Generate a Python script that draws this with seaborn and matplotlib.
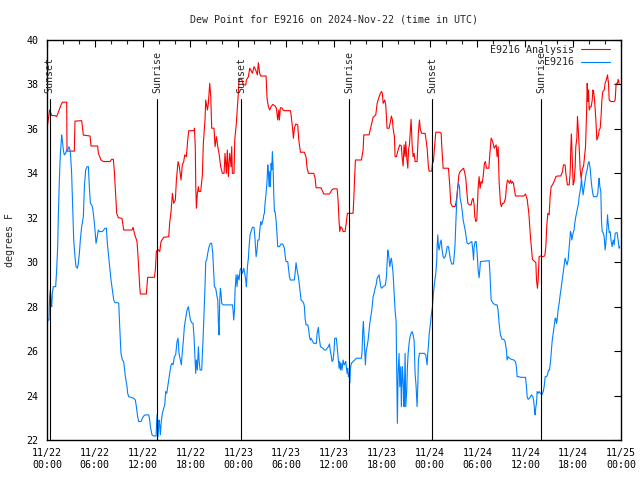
import pandas as pd
import matplotlib
matplotlib.use("Agg")
import matplotlib.pyplot as plt
import matplotlib.dates as mdates
import seaborn as sns

sns.set_style("white")
plt.rcParams['font.family'] = ['DejaVu Sans Mono']

# hours since 2024-11-22 00:00 UTC, dew point in degrees F
analysis_hours = [0.0, 0.33, 0.6, 1.0, 1.2, 1.45, 1.76, 1.93, 2.47, 2.51, 3.43, 3.51, 4.35, 4.56, 5.4, 5.52,
                  6.36, 6.44, 6.78, 7.07, 7.9, 8.1, 8.32, 8.45, 8.62, 8.74, 8.95, 9.0, 9.41, 9.62, 10.66, 10.8,
                  10.96, 11.29, 11.42, 11.63, 11.71, 12.46, 12.63, 13.47, 13.59, 13.72, 13.9, 14.14, 14.3, 14.64,
                  15.27, 15.39, 15.56, 15.73, 15.89, 16.1, 16.23, 16.44, 16.6, 16.81, 16.98, 17.15, 17.28, 17.48,
                  17.65, 17.78, 18.45, 18.49, 18.6, 18.66, 18.74, 18.86, 18.99, 19.07, 19.28, 19.49, 19.61, 19.82,
                  19.91, 20.12, 20.24, 20.41, 20.54, 20.66, 20.95, 21.08, 21.25, 21.42, 21.58, 21.79, 22.0, 22.21,
                  22.33, 22.5, 22.62, 22.75, 22.92, 23.09, 23.17, 23.25, 23.46, 23.55, 23.75, 24.0, 24.09, 24.43,
                  24.63, 24.93, 25.01, 25.26, 25.43, 25.56, 25.76, 25.97, 26.18, 26.39, 26.51, 26.68, 26.81, 27.48,
                  27.6, 27.77, 27.94, 28.11, 28.32, 28.61, 28.77, 28.94, 29.07, 29.15, 29.27, 29.45, 29.61, 29.78,
                  30.53, 30.62, 30.78, 30.91, 31.03, 31.2, 31.45, 31.58, 31.79, 32.29, 32.5, 32.62, 32.79, 33.46,
                  33.63, 33.75, 34.38, 34.72, 35.43, 35.72, 35.9, 36.39, 36.51, 36.64, 36.72, 36.85, 37.01, 37.14,
                  37.39, 37.56, 37.68, 38.39, 38.48, 38.6, 38.69, 39.44, 39.65, 39.74, 40.4, 40.49, 40.69, 40.9,
                  41.24, 41.41, 41.66, 41.82, 41.95, 42.07, 42.16, 42.37, 42.49, 42.66, 42.91, 43.08, 43.2, 43.33,
                  43.41, 43.58, 43.66, 43.83, 44.04, 44.25, 44.45, 44.54, 44.67, 44.79, 44.92, 45.0, 45.13, 45.26,
                  45.34, 45.46, 45.59, 45.67, 45.8, 45.92, 46.05, 46.17, 46.42, 46.59, 46.72, 46.84, 47.01, 47.43,
                  47.55, 47.68, 47.84, 47.93, 48.26, 48.35, 48.47, 48.6, 48.77, 49.27, 49.44, 49.52, 49.69, 50.36,
                  50.53, 50.65, 50.86, 51.19, 51.36, 51.53, 51.66, 51.82, 52.03, 52.24, 52.37, 52.53, 52.66, 52.79,
                  52.99, 53.2, 53.32, 53.45, 53.58, 53.66, 53.79, 53.91, 54.08, 54.2, 54.33, 54.45, 54.58, 54.71,
                  54.87, 54.99, 55.12, 55.42, 55.54, 55.71, 55.83, 55.96, 56.09, 56.21, 56.34, 56.46, 56.59, 56.71,
                  56.88, 57.0, 57.13, 57.3, 57.51, 57.63, 57.76, 57.89, 58.01, 58.14, 58.26, 58.39, 58.51, 58.64,
                  58.76, 59.81, 60.02, 60.23, 60.44, 60.64, 60.77, 60.89, 61.19, 61.32, 61.4, 61.52, 61.61, 61.73,
                  61.9, 62.11, 62.44, 62.57, 62.7, 62.82, 62.99, 63.11, 63.24, 63.4, 63.61, 63.83, 64.03, 64.45,
                  64.66, 64.78, 64.99, 65.08, 65.28, 65.5, 65.62, 65.71, 65.78, 65.91, 66.0, 66.12, 66.25, 66.33,
                  66.46, 66.54, 66.62, 66.75, 66.88, 67.0, 67.17, 67.3, 67.42, 67.55, 67.68, 67.76, 67.85, 67.93,
                  68.01, 68.14, 68.26, 68.39, 68.47, 68.56, 68.68, 68.85, 68.97, 69.1, 69.18, 69.26, 69.39, 69.51,
                  69.6, 69.72, 69.89, 70.01, 70.18, 70.31, 70.43, 70.52, 70.73, 71.14, 71.27, 71.39, 71.56, 71.64,
                  71.77]
analysis_dewpt = [36.0, 36.85, 36.6, 36.6, 36.55, 36.78, 37.08, 37.2, 37.2, 35.0, 35.0, 36.35, 36.37, 35.72, 35.68, 35.23,
                  35.23, 34.9, 34.6, 34.53, 34.53, 34.63, 34.63, 34.08, 32.95, 32.2, 32.0, 32.0, 31.97, 31.45, 31.45, 31.57,
                  31.3, 30.93, 30.25, 28.9, 28.57, 28.57, 29.32, 29.32, 29.65, 30.48, 30.58, 30.48, 30.93, 31.12,
                  31.15, 31.78, 32.28, 33.1, 32.65, 32.8, 33.7, 34.53, 34.3, 33.7, 34.38, 34.53, 34.83, 34.75,
                  35.5, 35.92, 35.92, 36.03, 35.2, 33.4, 32.43, 33.1, 33.4, 33.18, 33.18, 33.93, 35.35, 36.4,
                  37.3, 36.85, 37.15, 38.05, 37.45, 36.03, 36.03, 35.2, 35.65, 35.2, 34.9, 34.3, 34.0, 34.0,
                  34.9, 34.0, 35.05, 33.85, 34.9, 34.3, 35.2, 34.0, 34.0, 35.5, 36.25, 37.6, 38.23, 38.23,
                  37.98, 37.98, 38.2, 38.35, 38.73, 38.65, 38.5, 38.8, 38.65, 38.43, 38.98, 38.5, 38.38, 38.38,
                  37.38, 37.0, 36.85, 37.0, 37.1, 37.03, 36.93, 36.4, 36.85, 36.4, 36.95, 36.95, 36.85, 36.82,
                  36.82, 36.63, 36.1, 35.58, 36.03, 36.22, 36.18, 35.5, 34.95, 34.95, 34.72, 34.25, 34.0, 34.0,
                  33.78, 33.35, 33.35, 33.07, 33.07, 33.25, 33.3, 33.3, 32.8, 31.83, 31.38, 31.6, 31.53, 31.38,
                  31.38, 31.83, 32.2, 32.2, 32.8, 33.93, 34.6, 34.6, 35.05, 35.73, 35.73, 35.88, 36.18, 36.52,
                  36.63, 37.15, 37.45, 37.6, 37.68, 37.6, 37.15, 37.3, 37.08, 36.03, 36.03, 36.33, 36.58, 36.4,
                  36.03, 35.65, 34.75, 34.75, 35.05, 35.28, 35.23, 34.75, 34.33, 35.28, 34.75, 35.43, 34.68, 34.23,
                  35.05, 35.28, 36.03, 36.43, 35.28, 34.75, 34.9, 34.53, 34.53, 35.88, 36.4, 35.95, 35.8, 35.8,
                  35.5, 35.13, 34.3, 34.1, 34.1, 34.45, 34.53, 35.13, 35.85, 35.85, 35.8, 35.2, 34.23, 34.23,
                  33.4, 32.65, 32.5, 32.5, 32.8, 33.4, 33.93, 34.08, 34.15, 34.23, 34.08, 33.78, 33.18, 32.65,
                  32.58, 32.58, 32.8, 32.88, 32.58, 32.05, 31.83, 31.9, 33.33, 33.85, 33.33, 33.63, 33.55, 33.85,
                  34.45, 34.53, 34.23, 34.23, 34.83, 35.58, 35.5, 35.35, 35.13, 35.2, 35.28, 34.75, 35.2, 33.63,
                  32.65, 32.5, 32.65, 32.65, 32.88, 33.4, 33.7, 33.63, 33.55, 33.7, 33.55, 33.63, 33.55, 33.25,
                  32.98, 32.98, 33.07, 32.83, 32.2, 31.15, 30.63, 30.13, 30.03, 29.98, 29.2, 28.83, 29.2, 30.25,
                  30.28, 30.25, 30.28, 30.7, 31.68, 32.2, 32.13, 32.95, 33.4, 33.48, 33.63, 33.85, 33.88, 33.88,
                  34.08, 34.38, 34.38, 34.0, 33.48, 33.48, 34.0, 35.2, 35.77, 34.45, 33.48, 33.63, 34.3, 35.2,
                  35.58, 36.55, 36.1, 35.2, 34.15, 33.78, 34.23, 34.3, 34.75, 35.2, 36.7, 38.05, 37.23, 37.75,
                  36.85, 37.0, 37.0, 37.3, 37.75, 37.68, 37.3, 36.4, 35.5, 35.65, 35.73, 35.95, 36.03, 36.63,
                  37.3, 37.68, 37.75, 38.05, 38.23, 38.43, 38.05, 37.3, 37.23, 37.23, 37.3, 38.05, 38.05, 38.23,
                  38.05]

obs_hours = [0.0, 0.08, 0.25, 0.33, 0.42, 0.5, 0.59, 0.67, 0.79, 1.09, 1.21, 1.34, 1.42, 1.55, 1.67, 1.84, 1.92,
             2.05, 2.17, 2.34, 2.47, 2.59, 2.76, 2.89, 2.97, 3.09, 3.22, 3.35, 3.51, 3.64, 3.81, 3.93, 4.06,
             4.18, 4.35, 4.56, 4.69, 4.85, 5.02, 5.19, 5.31, 5.44, 5.61, 5.73, 5.86, 6.02, 6.15, 6.27, 6.44,
             6.57, 6.94, 7.11, 7.28, 7.45, 7.57, 7.7, 7.86, 8.03, 8.2, 8.37, 8.53, 8.87, 9.0, 9.12, 9.28,
             9.45, 9.62, 9.83, 10.04, 10.12, 10.25, 10.54, 10.87, 11.08, 11.21, 11.37, 11.5, 11.79, 11.96, 12.13,
             12.34, 12.76, 12.88, 12.97, 13.17, 13.38, 13.68, 13.8, 13.93, 14.05, 14.14, 14.22, 14.35, 14.47,
             14.64, 14.77, 14.89, 15.02, 15.14, 15.27, 15.39, 15.56, 15.69, 15.81, 15.98, 16.14, 16.31, 16.44,
             16.56, 16.73, 16.85, 16.98, 17.11, 17.23, 17.36, 17.57, 17.73, 17.86, 17.99, 18.15, 18.32, 18.44,
             18.57, 18.65, 18.74, 18.86, 18.99, 19.07, 19.2, 19.41, 19.49, 19.57, 19.7, 19.82, 19.91, 20.03,
             20.16, 20.33, 20.49, 20.66, 20.79, 20.91, 21.0, 21.16, 21.33, 21.42, 21.5, 21.58, 21.67, 21.75,
             21.83, 21.92, 22.09, 23.26, 23.34, 23.42, 23.51, 23.59, 23.72, 23.84, 23.93, 24.09, 24.22, 24.34,
             24.51, 24.68, 24.8, 24.93, 25.01, 25.14, 25.26, 25.35, 25.47, 25.6, 25.76, 25.97, 26.1, 26.23,
             26.35, 26.44, 26.6, 26.69, 26.81, 26.94, 27.02, 27.1, 27.19, 27.27, 27.35, 27.48, 27.61, 27.69,
             27.77, 27.85, 27.94, 28.02, 28.11, 28.19, 28.27, 28.36, 28.44, 28.53, 28.61, 28.73, 28.82, 28.94,
             29.15, 29.36, 29.57, 29.78, 29.91, 29.99, 30.2, 30.32, 30.41, 30.53, 31.03, 31.12, 31.24, 31.37,
             31.53, 31.66, 31.79, 31.87, 32.08, 32.2, 32.29, 32.37, 32.5, 32.71, 32.83, 32.92, 33.04, 33.12,
             33.33, 33.46, 33.79, 33.88, 34.04, 34.13, 34.21, 34.3, 34.59, 34.8, 35.01, 35.13, 35.3, 35.43,
             35.55, 35.64, 35.76, 35.89, 36.01, 36.09, 36.3, 36.43, 36.55, 36.64, 36.72, 36.81, 36.89, 37.01,
             37.14, 37.27, 37.39, 37.47, 37.56, 37.64, 37.72, 37.81, 37.89, 37.98, 38.06, 38.18, 38.39, 38.6,
             38.81, 39.44, 39.52, 39.61, 39.69, 39.77, 39.86, 39.94, 40.03, 40.15, 40.28, 40.4, 40.49, 40.61,
             40.74, 40.82, 40.91, 41.03, 41.16, 41.28, 41.41, 41.53, 41.66, 41.74, 41.87, 41.99, 42.16, 42.29,
             42.45, 42.58, 42.66, 42.74, 42.83, 42.91, 43.0, 43.12, 43.2, 43.33, 43.41, 43.54, 43.66, 43.79,
             43.87, 43.95, 44.04, 44.16, 44.25, 44.37, 44.45, 44.58, 44.71, 44.79, 44.92, 45.0, 45.13, 45.21,
             45.3, 45.42, 45.54, 45.67, 45.8, 45.92, 46.05, 46.17, 46.3, 46.42, 46.51, 46.59, 46.72, 47.34,
             47.51, 47.59, 47.68, 47.76, 47.84, 47.93, 48.05, 48.18, 48.26, 48.35, 48.47, 48.6, 48.77, 48.89,
             48.93, 49.02, 49.1, 49.18, 49.31, 49.44, 49.56, 49.69, 49.81, 49.94, 50.06, 50.19, 50.36, 50.48,
             50.61, 50.77, 50.98, 51.11, 51.19, 51.28, 51.4, 51.53, 51.61, 51.74, 51.82, 51.95, 52.07, 52.2,
             52.32, 52.45, 52.58, 52.7, 52.87, 53.08, 53.29, 53.41, 53.5, 53.58, 53.71, 53.83, 53.96, 54.08,
             54.2, 54.29, 54.37, 55.46, 55.54, 55.63, 55.71, 55.96, 56.25, 56.46, 56.58, 56.71, 56.88, 57.09,
             57.3, 57.46, 57.63, 57.71, 57.84, 58.01, 58.26, 58.55, 58.76, 58.88, 58.97, 59.18, 59.39, 60.02,
             60.14, 60.23, 60.35, 60.52, 60.64, 60.77, 60.94, 61.06, 61.15, 61.23, 61.32, 61.4, 61.48, 61.61,
             61.73, 61.9, 62.07, 62.24, 62.36, 62.49, 62.66, 62.78, 62.91, 63.03, 63.16, 63.24, 63.36, 63.49,
             63.61, 63.74, 63.82, 63.91, 63.99, 64.11, 64.24, 64.37, 64.49, 64.62, 64.74, 64.87, 64.99, 65.12,
             65.24, 65.37, 65.45, 65.54, 65.66, 65.75, 65.83, 65.91, 66.04, 66.12, 66.2, 66.33, 66.46, 66.58,
             66.67, 66.75, 66.83, 66.96, 67.04, 67.13, 67.25, 67.38, 67.5, 67.63, 67.75, 67.88, 68.0, 68.13,
             68.25, 68.34, 68.46, 68.55, 68.97, 69.09, 69.18, 69.26, 69.35, 69.47, 69.55, 69.64, 69.76, 69.89,
             70.01, 70.1, 70.22, 70.31, 70.39, 70.52, 70.64, 70.77, 70.89, 71.02, 71.14, 71.27, 71.39, 71.52,
             71.64, 71.77, 71.85]
obs_dewpt = [26.65, 27.4, 27.4, 28.45, 28.75, 28.3, 28.0, 28.6, 28.9, 28.9, 29.65, 30.7, 32.05, 33.7, 34.83, 35.73, 35.5,
             35.05, 34.83, 34.9, 35.05, 35.05, 35.2, 35.05, 34.75, 34.0, 32.5, 31.0, 30.25, 29.8, 29.73, 29.95, 30.4,
             31.0, 31.6, 32.05, 33.4, 34.15, 34.3, 34.3, 33.4, 32.65, 32.58, 32.43, 32.05, 31.45, 30.85, 31.08, 31.45,
             31.38, 31.38, 31.45, 31.53, 31.53, 30.85, 30.4, 29.8, 29.2, 28.75, 28.3, 28.18, 28.18, 28.15, 27.1, 25.9,
             25.6, 25.53, 24.85, 24.4, 24.1, 23.95, 23.92, 23.88, 23.8, 23.5, 23.05, 22.83, 22.83, 22.98, 23.08,
             23.13, 23.13, 22.9, 22.6, 22.23, 22.18, 22.18, 23.13, 22.15, 22.9, 22.68, 22.23, 22.9, 23.2,
             23.43, 23.58, 24.18, 24.1, 24.4, 24.7, 25.0, 25.38, 25.45, 25.38, 25.75, 25.83, 26.43, 26.58,
             25.9, 25.6, 25.38, 25.98, 26.5, 27.1, 27.4, 27.85, 28.0, 27.7, 27.4, 27.28, 27.25, 26.65,
             25.6, 25.0, 25.6, 25.15, 26.2, 25.6, 25.15, 25.15, 25.9, 26.5, 27.7, 28.9, 30.03, 30.1,
             30.4, 30.7, 30.85, 30.85, 30.4, 29.5, 28.9, 28.83, 28.45, 28.3, 27.25, 26.73, 28.3, 28.83,
             28.6, 28.15, 28.08, 28.08, 27.85, 27.4, 27.78, 28.75, 29.43, 28.9, 29.43, 29.2, 29.65, 29.73,
             29.5, 29.73, 29.5, 29.2, 28.9, 29.8, 30.18, 30.7, 31.23, 31.38, 31.57, 31.57, 31.0, 30.25,
             30.55, 31.0, 31.0, 31.45, 31.83, 31.68, 31.83, 31.9, 32.13, 32.2, 32.65, 33.1, 33.7, 34.38,
             34.08, 33.4, 34.08, 33.4, 34.45, 34.15, 34.98, 34.3, 33.1, 32.28, 32.28, 31.9, 31.45, 30.7,
             30.7, 30.82, 30.82, 30.63, 30.18, 30.03, 30.03, 29.65, 29.35, 29.2, 29.2, 29.5, 29.98, 29.65,
             29.35, 28.98, 28.53, 28.3, 28.23, 28.15, 28.0, 27.48, 27.18, 27.18, 26.95, 26.65, 26.5, 26.58,
             26.43, 26.35, 26.35, 26.8, 27.07, 26.65, 26.43, 26.2, 26.13, 26.05, 26.05, 26.13, 26.2, 26.32,
             25.98, 25.83, 25.53, 25.6, 26.05, 26.58, 26.58, 26.05, 25.6, 25.23, 25.53, 25.15, 25.45, 25.15,
             25.6, 25.38, 25.45, 25.53, 25.23, 25.0, 25.23, 24.85, 25.0, 24.55, 25.23, 25.45, 25.53, 25.6,
             25.68, 25.68, 25.98, 26.95, 27.33, 26.65, 25.98, 25.38, 25.98, 26.2, 26.5, 26.95, 27.25, 27.55,
             27.85, 28.15, 28.45, 28.6, 28.83, 28.98, 29.28, 29.35, 29.43, 29.2, 28.9, 28.83, 28.9, 28.93,
             28.98, 29.35, 29.95, 30.55, 30.4, 30.1, 29.8, 30.1, 30.18, 29.8, 29.5, 28.6, 27.85, 27.33,
             25.15, 22.75, 25.0, 25.9, 24.4, 25.3, 23.5, 25.3, 24.4, 23.5, 25.9, 23.5, 24.25, 25.3,
             25.9, 26.35, 26.65, 26.8, 26.88, 26.73, 26.5, 25.0, 24.4, 23.5, 24.4, 25.6, 25.9, 25.9,
             25.83, 25.6, 25.38, 25.9, 26.2, 26.73, 27.1, 27.55, 27.78, 28.0, 28.6, 29.05, 29.5, 30.1,
             30.7, 31.23, 30.7, 30.55, 30.85, 31.0, 30.55, 30.25, 30.18, 30.25, 30.4, 30.7, 30.7, 30.4,
             30.1, 29.92, 29.92, 30.4, 30.85, 31.75, 32.8, 33.4, 33.55, 33.4, 32.88, 32.65, 32.35, 31.9,
             31.68, 31.45, 31.15, 30.85, 30.82, 30.88, 30.93, 30.55, 30.1, 30.7, 30.93, 30.93, 30.4, 29.65,
             29.3, 29.65, 30.03, 30.07, 29.65, 28.9, 28.3, 28.15, 28.08, 28.08, 27.85, 27.25, 26.73, 26.53,
             26.53, 26.43, 26.05, 25.6, 25.75, 25.68, 25.63, 25.6, 25.53, 25.3, 24.85, 24.85, 24.82, 24.82,
             24.4, 23.95, 23.83, 23.88, 23.95, 24.03, 23.95, 23.73, 23.35, 23.13, 23.5, 23.65, 24.18, 24.1,
             24.18, 24.1, 24.03, 24.18, 24.4, 24.85, 24.85, 24.93, 25.15, 25.15, 25.53, 25.9, 26.43, 26.8,
             27.1, 27.48, 27.48, 27.25, 27.4, 27.85, 28.15, 28.53, 28.83, 29.2, 29.5, 29.88, 30.18, 30.03,
             29.88, 30.1, 30.48, 30.85, 31.38, 31.3, 31.0, 31.15, 31.38, 31.45, 31.75, 32.05, 32.28, 32.5,
             32.65, 32.95, 33.1, 33.4, 33.78, 33.4, 33.03, 33.4, 33.7, 34.0, 34.15, 34.45, 34.53, 34.23,
             33.7, 33.4, 33.1, 32.95, 32.95, 33.1, 33.55, 33.78, 33.4, 33.18, 31.9, 31.38, 31.33, 31.15,
             30.55, 30.85, 31.53, 32.13, 31.75, 31.33, 31.38, 30.93, 30.7, 31.0, 30.78, 31.3, 31.33, 31.33,
             31.0, 30.63, 30.7]

series_names = ["E9216 Analysis", "E9216"]
series_colors = ["#ff0000", "#0080ff"]

# sunrise / sunset markers (hours since start)
sun_labels = ["Sunset", "Sunrise", "Sunset", "Sunrise", "Sunset", "Sunrise"]
sun_hours = [0.33, 13.84, 24.38, 37.89, 48.34, 62.0]

start = pd.Timestamp("2024-11-22 00:00")
width = max(len(n) for n in series_names)  # right-justify legend text like gnuplot

frames = []
for name, hrs, vals in [(series_names[0], analysis_hours, analysis_dewpt),
                        (series_names[1], obs_hours, obs_dewpt)]:
    frames.append(pd.DataFrame({"time": start + pd.to_timedelta(hrs, unit="h"),
                                "dewpt": vals,
                                "series": name.rjust(width)}))
df = pd.concat(frames, ignore_index=True)

fig = plt.figure(figsize=(6.4, 4.8), dpi=100)
ax = fig.add_axes([47/640, 40/480, 574/640, 400/480])

sns.lineplot(data=df, x="time", y="dewpt", hue="series",
             palette=dict(zip([n.rjust(width) for n in series_names], series_colors)),
             estimator=None, sort=False, linewidth=0.8, ax=ax)

for lab, h in zip(sun_labels, sun_hours):
    t = start + pd.Timedelta(hours=h)
    ax.axvline(t, ymin=0, ymax=0.852, color="black", linewidth=0.8)
    ax.text(t, 0.868, lab, transform=ax.get_xaxis_transform(), rotation=90,
            ha="center", va="bottom", fontsize=7.2)

ax.set_xlim(start, start + pd.Timedelta(hours=72))
ax.set_ylim(22, 40)
ax.set_yticks(range(22, 41, 2))
ax.xaxis.set_major_locator(mdates.HourLocator(byhour=[0, 6, 12, 18]))
ax.xaxis.set_minor_locator(mdates.HourLocator(byhour=range(0, 24, 2)))
ax.xaxis.set_major_formatter(mdates.DateFormatter("%m/%d\n%H:%M"))

ax.tick_params(which="major", direction="in", top=True, right=True, length=5, width=0.8,
               labelsize=7.2, pad=6, colors="black")
ax.tick_params(which="minor", direction="in", top=True, right=False, length=3, width=0.8)
for s in ax.spines.values():
    s.set_color("black")
    s.set_linewidth(1)

ax.set_xlabel("")
ax.set_ylabel("")
fig.text(10/640, 0.5, "degrees F", rotation=90, ha="center", va="center", fontsize=7.2)
fig.text(334/640, 1 - 20/480, "Dew Point for E9216 on 2024-Nov-22 (time in UTC)",
         ha="center", va="center", fontsize=7.2)

ax.legend(loc="upper right", bbox_to_anchor=(0.9826, 0.99), frameon=False, markerfirst=False,
          fontsize=7.2, handlelength=2.9, handletextpad=0.7, labelspacing=0.25,
          borderpad=0.1, borderaxespad=0)

plt.savefig("out.png", dpi=100)
